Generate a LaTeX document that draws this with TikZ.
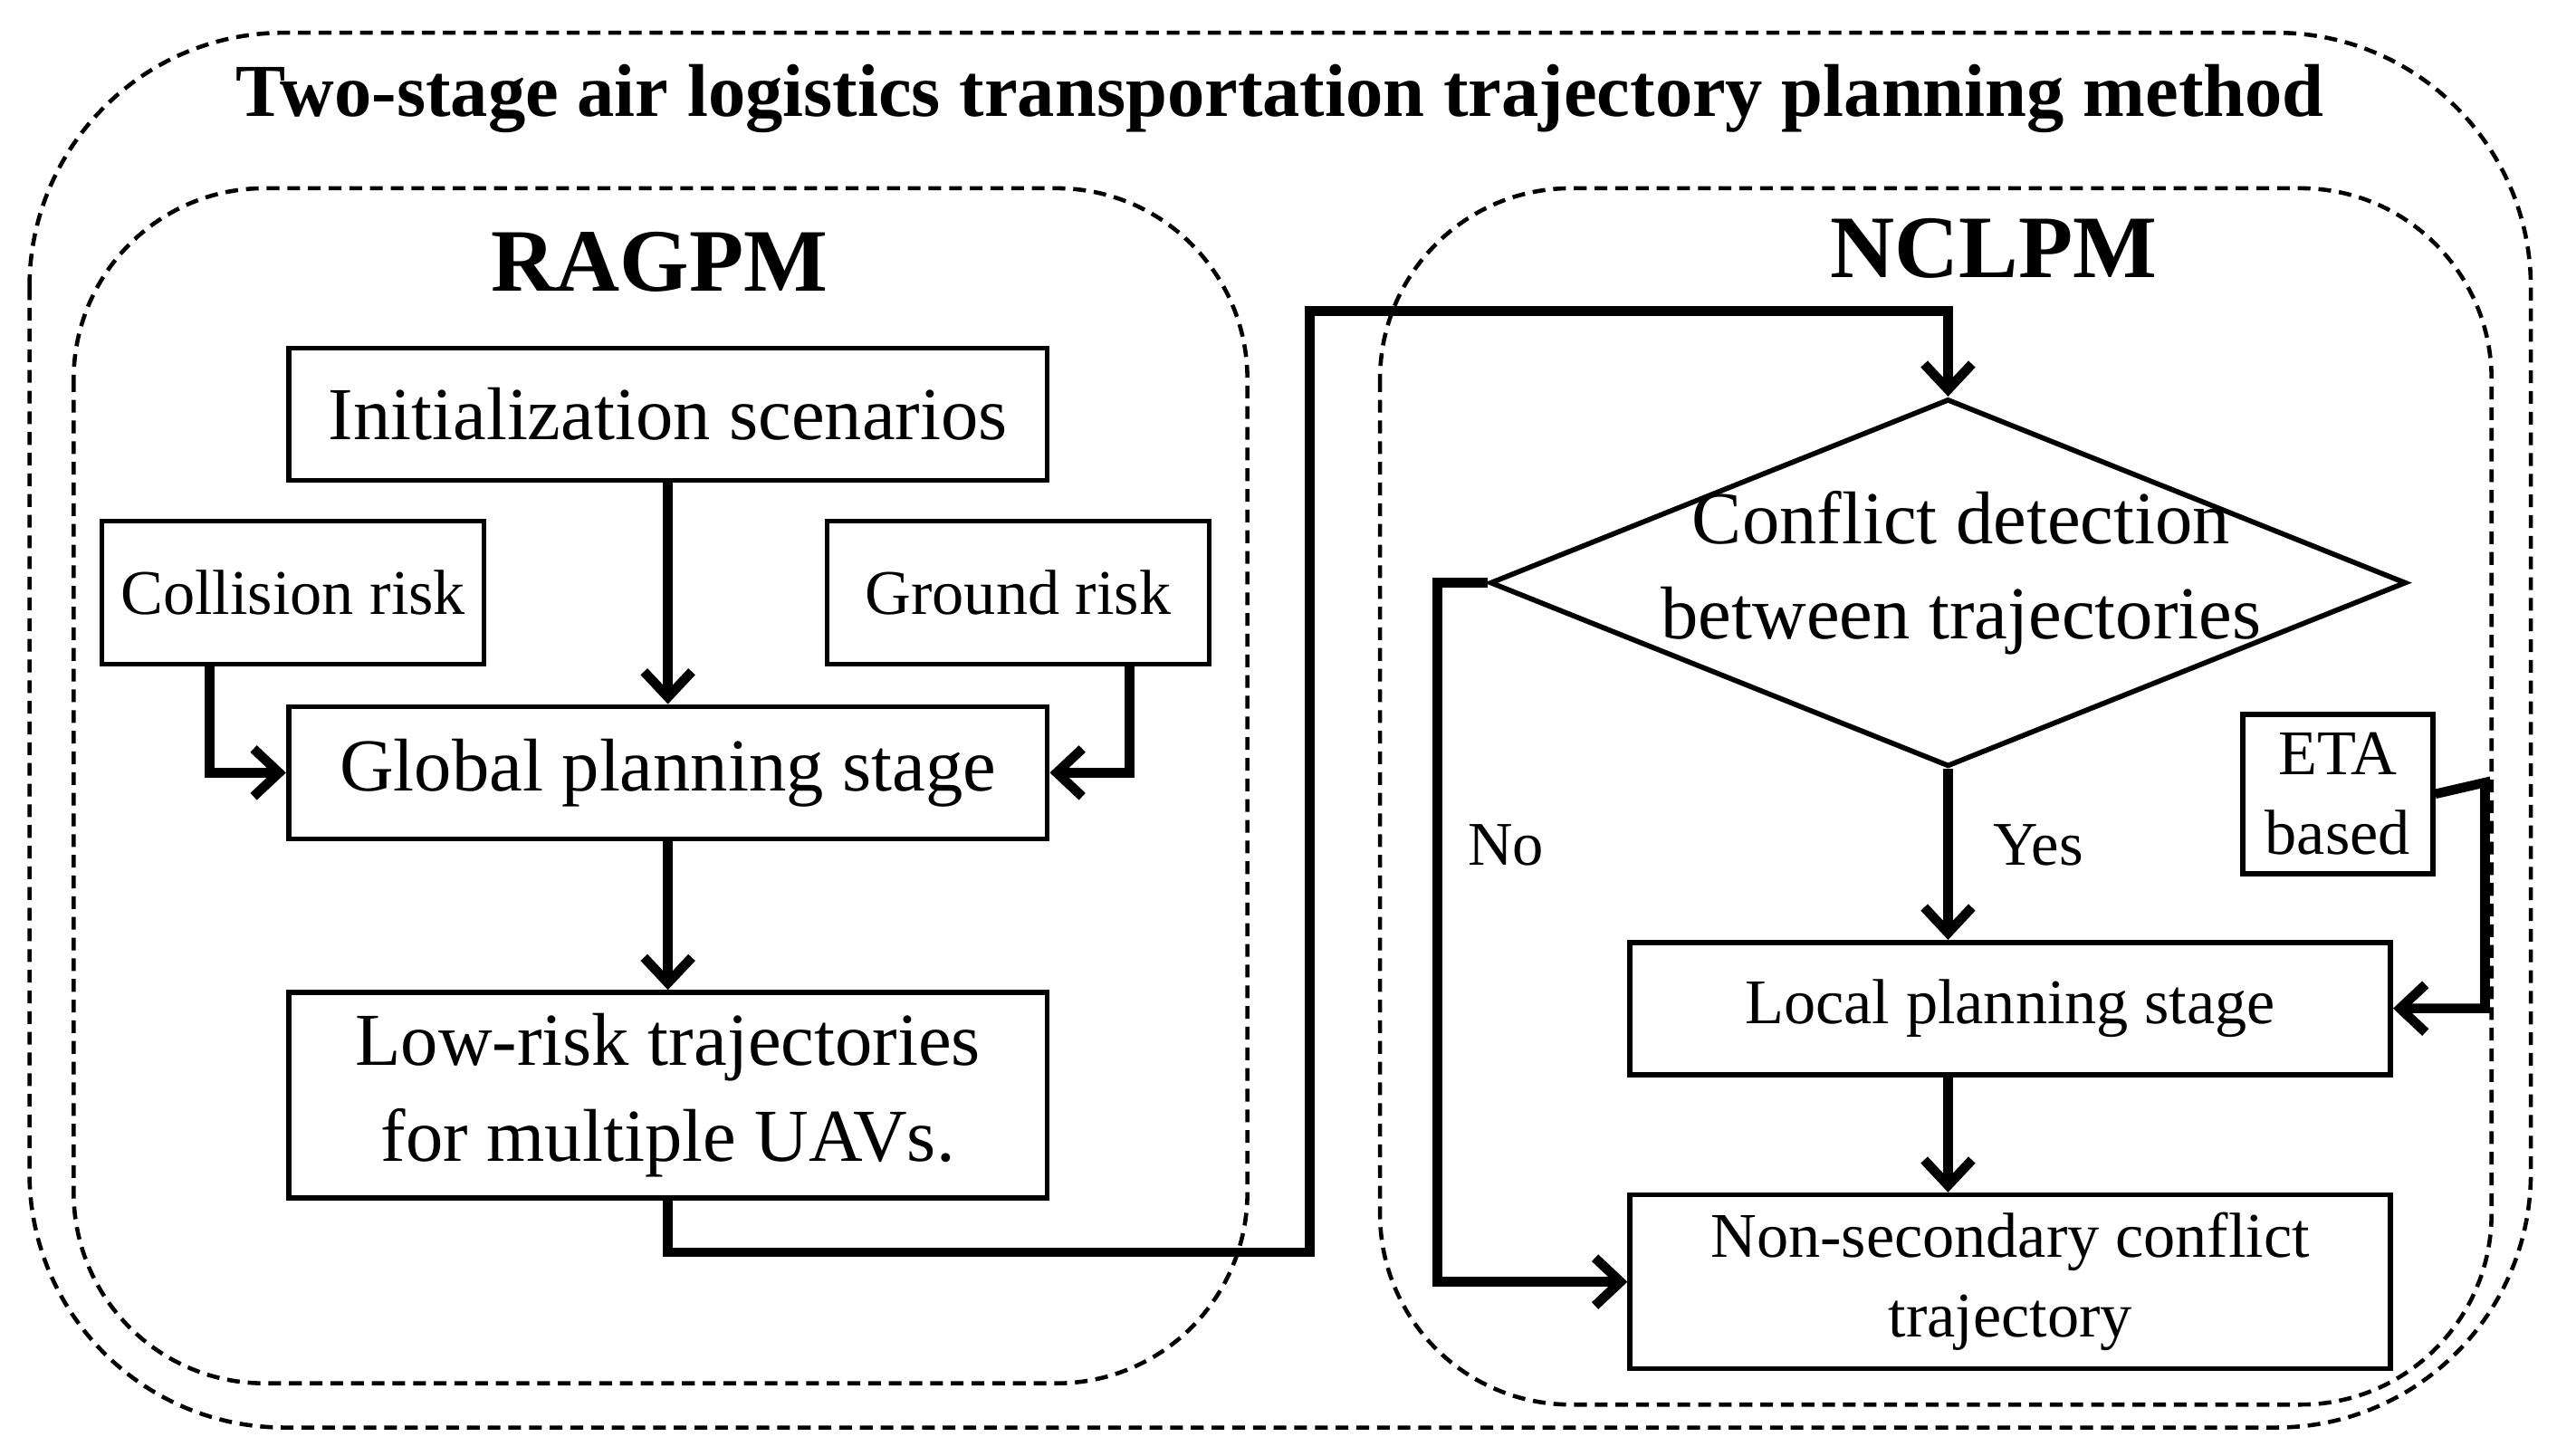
\documentclass[tikz,border=0pt]{standalone}
\usepackage{fontspec}
\setmainfont{Liberation Serif}
\usetikzlibrary{arrows.meta,shapes.geometric}
\begin{document}
\begin{tikzpicture}[x=0.01808cm,y=-0.01808cm,
  box/.style={draw,line width=1.6pt,inner sep=0pt,align=center,font=\fontsize{23.5}{30}\selectfont},
  sbox/.style={box,font=\fontsize{20}{25}\selectfont},
  grp/.style={draw,line width=1.3pt,dash pattern=on 4pt off 2.5pt},
  arr/.style={line width=3pt,-{Straight Barb[length=8pt,width=15pt,line width=3pt]}},
  lbl/.style={font=\fontsize{19.5}{24}\selectfont}]
\useasboundingbox (0,0) rectangle (1562,889);
\draw[grp,rounded corners=80] (18,20) rectangle (1546,872);
\draw[grp,rounded corners=60] (45,115) rectangle (762,845);
\draw[grp,rounded corners=60] (843,115) rectangle (1522,858);
\node[font=\bfseries\fontsize{23.5}{28}\selectfont] (title) at (782,60) {Two-stage air logistics transportation trajectory planning method};
\node[font=\bfseries\fontsize{28}{32}\selectfont] (rag) at (403,160) {RAGPM};
\node[font=\bfseries\fontsize{28}{32}\selectfont] (ncl) at (1218,152) {NCLPM};
\node[box,minimum width=8.38cm,minimum height=1.46cm] (init) at (408,253) {Initialization scenarios};
\node[sbox,minimum width=4.22cm,minimum height=1.58cm] (coll) at (179,362) {Collision risk};
\node[sbox,minimum width=4.22cm,minimum height=1.58cm] (gr) at (622,362) {Ground risk};
\node[box,minimum width=8.38cm,minimum height=1.46cm] (glob) at (408,472) {Global planning stage};
\node[box,minimum width=8.38cm,minimum height=2.27cm] (low) at (408,669) {Low-risk trajectories\\for multiple UAVs.};
\node[draw,line width=1.6pt,diamond,aspect=2.49,minimum width=10.12cm,minimum height=4.06cm,inner sep=0pt] (dia) at (1190,356) {};
\node[align=center,font=\fontsize{23.5}{30}\selectfont] at (1198,350) {Conflict detection\\between trajectories};
\node[sbox,minimum width=2.1cm,minimum height=1.76cm,font=\fontsize{20}{25}\selectfont] (eta) at (1428,485) {ETA\\based};
\node[sbox,minimum width=8.4cm,minimum height=1.46cm] (loc) at (1228,616) {Local planning stage};
\node[sbox,minimum width=8.4cm,minimum height=1.92cm] (non) at (1228,783) {Non-secondary conflict\\trajectory};
\coordinate (c1) at (128,407);
\coordinate (c2) at (690,407);
\draw[arr] (init.south) -- (glob.north);
\draw[arr] (coll.south -| c1) |- (glob.west);
\draw[arr] (gr.south -| c2) |- (glob.east);
\draw[arr] (glob.south) -- (low.north);
\draw[arr] (low.south) -- (408,765) -- (800,765) -- (800,190) -- (1190,190) -- (dia.north);
\draw[arr] (dia.west) -- (878,356) |- (non.west);
\draw[arr] (dia.south) -- (loc.north -| dia.south);
\draw[arr] (eta.east) -- (1518,478) |- (loc.east);
\draw[arr] (loc.south -| dia.south) -- (non.north -| dia.south);
\node[lbl] (yes) at (1245,516) {Yes};
\node[lbl] (no) at (920,516) {No};
\end{tikzpicture}
\end{document}
